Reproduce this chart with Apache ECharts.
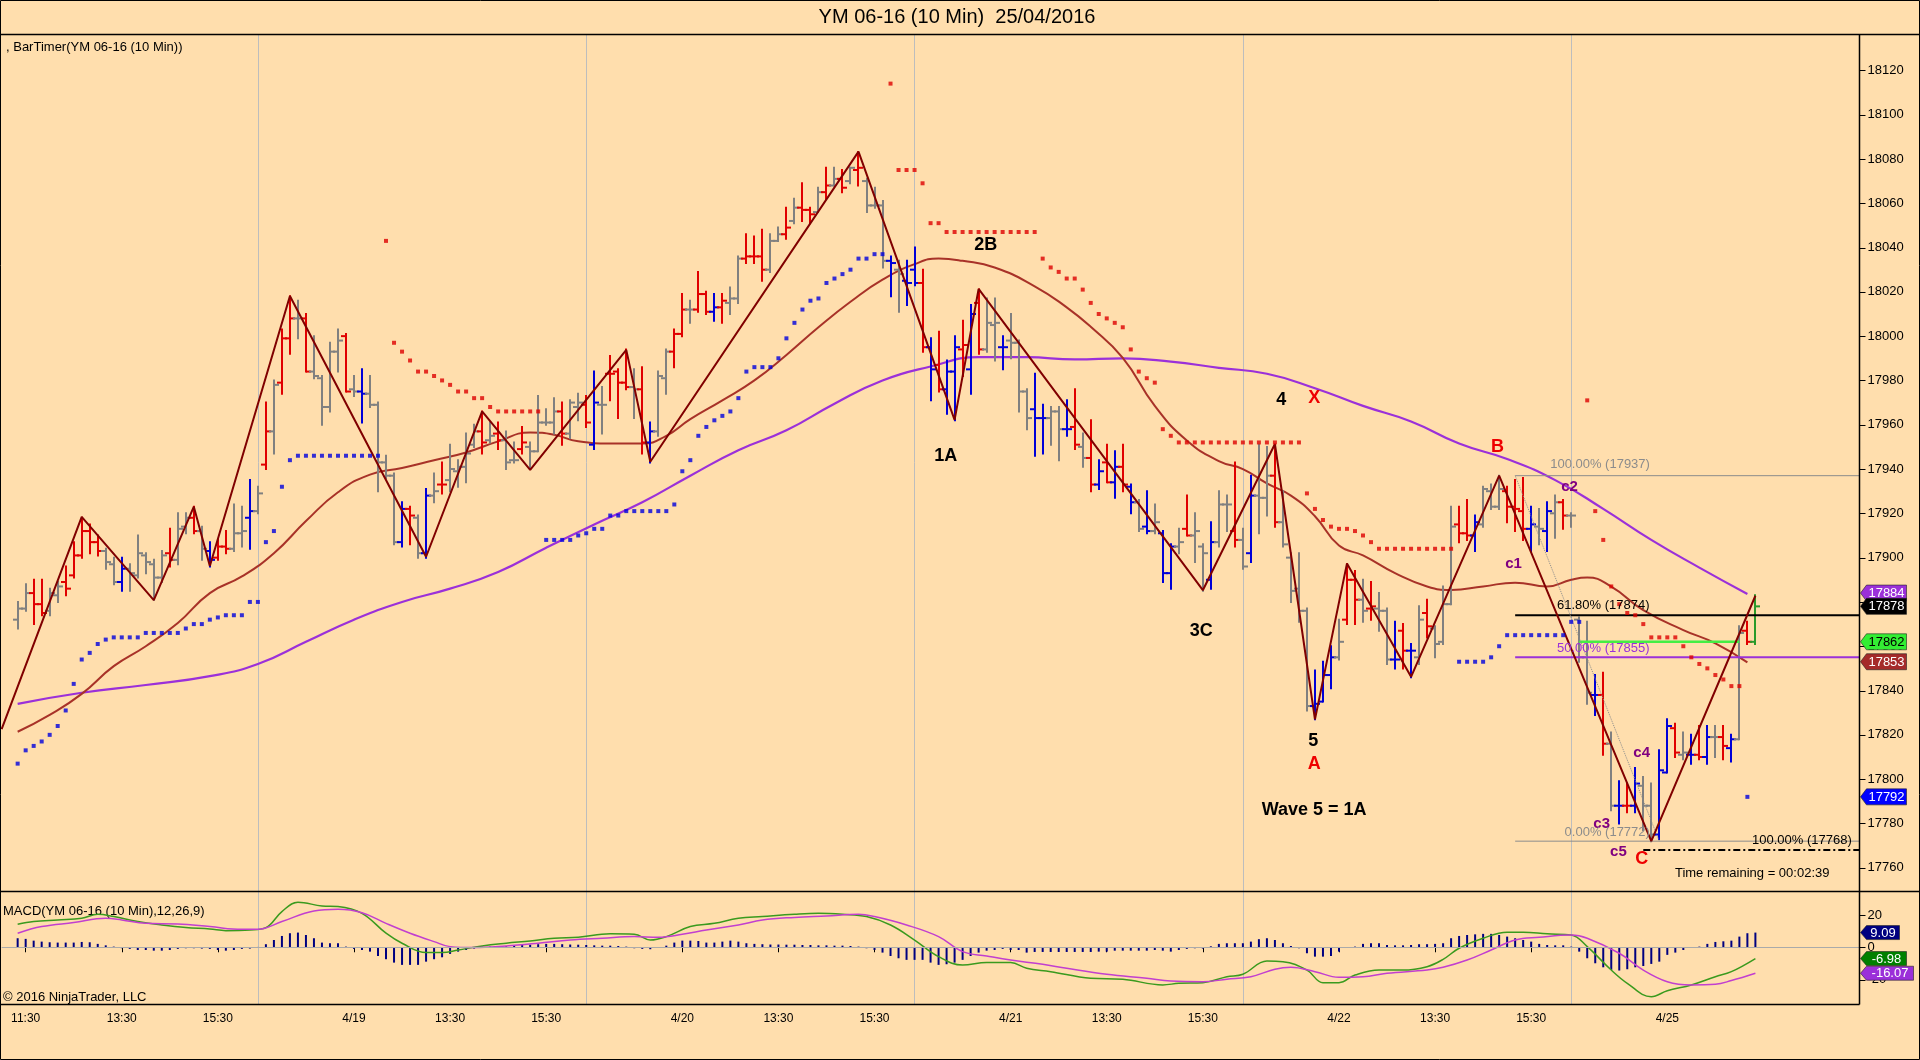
<!DOCTYPE html>
<html>
<head>
<meta charset="utf-8">
<title>YM 06-16 (10 Min) 25/04/2016</title>
<script src="https://cdn.jsdelivr.net/npm/echarts@6/dist/echarts.min.js"></script>
<style>
html, body { margin: 0; padding: 0; background: #ffdead; }
#chart { width: 1920px; height: 1060px; }
</style>
</head>
<body>
<div id="chart"></div>
<script>
/* data */
var FONT = '"Liberation Sans", Arial, sans-serif';
var PRE = 2;      // empty slots left of the first bar
var NCAT = 233;   // slots across the price panel

// one row per 10 min bar: open, high, low, close, colour code
var bars = [
[17872,17880,17868,17877,'g'],[17877,17888,17876,17884,'g'],[17884,17890,17870,17879,'r'],[17879,17890,17874,17875,'r'],
[17876,17886,17874,17884,'g'],[17883,17889,17880,17887,'g'],[17889,17896,17883,17886,'r'],[17892,17907,17891,17901,'r'],
[17901,17918,17900,17912,'r'],[17912,17915,17902,17907,'r'],[17907,17910,17901,17903,'r'],[17903,17904,17895,17898,'g'],
[17897,17900,17888,17889,'g'],[17889,17900,17885,17895,'b'],[17895,17897,17885,17893,'g'],[17892,17910,17891,17902,'g'],
[17901,17902,17893,17898,'g'],[17897,17899,17881,17891,'g'],[17891,17903,17889,17901,'g'],[17902,17913,17896,17899,'r'],
[17899,17920,17897,17913,'g'],[17914,17920,17911,17918,'g'],[17918,17923,17911,17912,'r'],[17912,17914,17899,17904,'g'],
[17903,17907,17896,17899,'b'],[17900,17908,17899,17905,'r'],[17905,17912,17902,17904,'r'],[17904,17924,17903,17911,'g'],
[17911,17923,17905,17912,'g'],[17918,17935,17904,17921,'b'],[17921,17932,17920,17929,'g'],[17942,17970,17940,17957,'r'],
[17957,17980,17947,17978,'g'],[17979,18003,17974,17999,'r'],[17999,18018,17992,18008,'r'],[18008,18016,17999,18008,'g'],
[18008,18010,17984,17984,'r'],[17984,18000,17981,17982,'g'],[17981,17982,17960,17968,'g'],[17968,17997,17966,17993,'g'],
[17993,18003,17984,17998,'g'],[18000,18001,17975,17975,'r'],[17976,17982,17973,17975,'g'],[17975,17985,17961,17974,'b'],
[17974,17982,17968,17969,'g'],[17969,17970,17930,17943,'g'],[17943,17946,17936,17937,'g'],[17937,17938,17906,17907,'g'],
[17907,17925,17905,17922,'b'],[17922,17923,17906,17919,'r'],[17918,17919,17900,17902,'g'],[17902,17931,17900,17928,'b'],
[17928,17938,17925,17930,'g'],[17933,17943,17929,17933,'r'],[17935,17951,17930,17940,'g'],[17939,17944,17932,17941,'g'],
[17941,17956,17934,17947,'g'],[17951,17960,17950,17957,'g'],[17957,17966,17947,17952,'r'],[17953,17961,17952,17955,'g'],
[17956,17961,17949,17953,'r'],[17953,17957,17940,17943,'g'],[17944,17952,17943,17944,'g'],[17949,17959,17947,17952,'r'],
[17950,17952,17940,17948,'g'],[17948,17973,17948,17961,'g'],[17961,17967,17960,17961,'g'],[17961,17972,17956,17966,'g'],
[17966,17970,17951,17956,'r'],[17956,17971,17954,17970,'g'],[17968,17974,17962,17970,'g'],[17969,17973,17959,17961,'r'],
[17951,17984,17949,17970,'b'],[17969,17977,17956,17969,'g'],[17983,17991,17971,17983,'r'],[17984,17985,17963,17979,'r'],
[17979,17994,17976,17977,'r'],[17977,17985,17963,17976,'g'],[17976,17986,17947,17952,'r'],[17952,17961,17943,17957,'b'],
[17957,17984,17955,17982,'g'],[17981,17994,17974,17993,'g'],[17993,18003,17986,18001,'r'],[18001,18019,18000,18012,'r'],
[18012,18016,18006,18012,'g'],[18012,18029,18011,18019,'r'],[18019,18020,18010,18011,'r'],[18011,18019,18007,18013,'b'],
[18013,18019,18006,18016,'r'],[18015,18022,18010,18017,'g'],[18017,18036,18015,18035,'g'],[18035,18046,18033,18036,'r'],
[18036,18045,18033,18036,'r'],[18036,18048,18025,18030,'r'],[18030,18046,18029,18043,'g'],[18043,18049,18043,18046,'g'],
[18046,18058,18044,18049,'r'],[18052,18062,18051,18058,'g'],[18058,18069,18052,18057,'r'],[18057,18058,18051,18055,'r'],
[18056,18067,18056,18065,'g'],[18065,18076,18062,18068,'r'],[18068,18076,18068,18071,'g'],[18071,18075,18065,18067,'r'],
[18070,18076,18069,18076,'g'],[18075,18083,18068,18076,'r'],[18070,18071,18056,18059,'g'],[18059,18067,18058,18059,'g'],
[18059,18061,18031,18034,'g'],[18034,18036,18018,18033,'b'],[18030,18034,18011,18028,'g'],[18025,18034,18014,18024,'b'],
[18030,18040,18023,18024,'b'],[18024,18030,17993,17995,'r'],[17995,17999,17971,17985,'b'],[17987,18002,17975,17976,'r'],
[17976,17989,17965,17984,'b'],[17984,18000,17962,17995,'b'],[17994,18007,17982,17996,'r'],[17985,18014,17974,18010,'b'],
[18015,18021,17992,17994,'r'],[17994,18017,17993,18006,'g'],[18005,18017,17989,18006,'g'],[17995,18000,17985,17995,'b'],
[17998,18010,17990,17997,'g'],[17997,17998,17966,17975,'g'],[17975,17976,17958,17963,'g'],[17967,17983,17946,17963,'b'],
[17963,17969,17947,17963,'b'],[17963,17968,17951,17966,'g'],[17966,17968,17944,17958,'g'],[17958,17971,17955,17958,'b'],
[17959,17976,17949,17951,'r'],[17950,17956,17941,17945,'g'],[17945,17962,17930,17933,'r'],[17933,17944,17931,17939,'b'],
[17943,17951,17934,17934,'r'],[17934,17948,17927,17941,'b'],[17941,17951,17930,17933,'r'],[17932,17933,17920,17925,'b'],
[17925,17926,17912,17913,'g'],[17914,17930,17911,17912,'b'],[17912,17924,17911,17916,'g'],[17911,17912,17889,17893,'b'],
[17893,17906,17886,17905,'b'],[17905,17913,17902,17907,'g'],[17913,17928,17910,17910,'r'],[17910,17920,17898,17912,'g'],
[17905,17906,17885,17902,'g'],[17890,17916,17886,17907,'b'],[17907,17930,17905,17924,'g'],[17924,17928,17912,17924,'g'],
[17912,17943,17905,17908,'r'],[17908,17913,17895,17896,'g'],[17902,17937,17898,17928,'b'],[17928,17951,17911,17927,'g'],
[17927,17950,17919,17937,'g'],[17937,17951,17914,17916,'r'],[17916,17930,17905,17906,'g'],[17900,17902,17880,17885,'g'],
[17886,17902,17871,17876,'g'],[17876,17877,17831,17833,'g'],[17833,17849,17827,17834,'b'],[17835,17853,17835,17847,'b'],
[17847,17860,17841,17855,'b'],[17855,17872,17854,17862,'g'],[17872,17897,17870,17890,'r'],[17890,17894,17870,17881,'r'],
[17881,17890,17871,17876,'g'],[17877,17889,17872,17878,'r'],[17877,17884,17867,17876,'g'],[17876,17877,17852,17854,'g'],
[17854,17871,17850,17854,'b'],[17867,17870,17850,17858,'r'],[17858,17861,17846,17858,'b'],[17855,17878,17852,17872,'g'],
[17875,17881,17864,17869,'r'],[17868,17869,17855,17861,'g'],[17862,17887,17861,17879,'g'],[17879,17923,17879,17914,'g'],
[17915,17923,17907,17911,'r'],[17911,17926,17908,17910,'r'],[17910,17919,17903,17916,'b'],[17915,17932,17914,17931,'g'],
[17930,17933,17922,17923,'g'],[17923,17937,17922,17931,'g'],[17930,17932,17916,17923,'r'],[17923,17935,17912,17922,'r'],
[17921,17936,17908,17913,'r'],[17913,17923,17903,17915,'b'],[17914,17922,17906,17913,'g'],[17912,17925,17903,17921,'b'],
[17920,17928,17909,17925,'g'],[17925,17926,17913,17919,'r'],[17919,17920,17914,17919,'g'],[17872,17873,17853,17855,'g'],
[17855,17871,17834,17839,'g'],[17838,17847,17829,17838,'b'],[17838,17848,17811,17816,'r'],[17816,17821,17786,17788,'g'],
[17788,17799,17780,17788,'b'],[17788,17798,17785,17788,'r'],[17788,17805,17785,17798,'b'],[17797,17801,17777,17788,'g'],
[17788,17798,17772,17775,'g'],[17775,17813,17773,17804,'b'],[17803,17827,17803,17824,'b'],[17823,17825,17810,17812,'r'],
[17811,17821,17809,17812,'g'],[17811,17820,17807,17811,'b'],[17811,17824,17809,17810,'r'],[17810,17824,17807,17819,'b'],
[17819,17824,17810,17819,'g'],[17819,17824,17809,17815,'r'],[17814,17820,17808,17818,'b'],[17818,17869,17818,17866,'g'],
[17867,17871,17861,17862,'r'],[17862,17883,17861,17878,'G']
];

// trailing stop dots [bar, price]
var blueDots = [
[0,17807],[1,17813],[2,17815],[3,17817],[4,17820],[5,17824],[6,17831],[7,17843],[8,17854],[9,17857],[10,17861],
[11,17863],[12,17864],[13,17864],[14,17864],[15,17864],[16,17866],[17,17866],[18,17866],[19,17866],[20,17866],
[21,17868],[22,17870],[23,17870],[24,17872],[25,17873],[26,17874],[27,17874],[28,17874],[29,17880],[30,17880],
[31,17907],[32,17912],[33,17932],[34,17944],[35,17946],[36,17946],[37,17946],[38,17946],[39,17946],[40,17946],
[41,17946],[42,17946],[43,17946],[44,17946],[45,17946],
[66,17908],[67,17908],[68,17908],[69,17908],[70,17910],[71,17911],[72,17913],[73,17913],[74,17919],[75,17919],
[76,17921],[77,17921],[78,17921],[79,17921],[80,17921],[81,17921],[82,17924],[83,17939],[84,17944],[85,17955],
[86,17959],[87,17962],[88,17964],[89,17966],[90,17972],[91,17984],[92,17986],[93,17986],[94,17986],[95,17990],
[96,17999],[97,18006],[98,18012],[99,18016],[100,18017],[101,18024],[102,18026],[103,18028],[104,18030],[105,18035],
[106,18035],[107,18037],[108,18037],
[180,17853],[181,17853],[182,17853],[183,17853],[184,17855],[185,17860],[186,17865],[187,17865],[188,17865],
[189,17865],[190,17865],[191,17865],[192,17865],[193,17865],[194,17871],[195,17871],[216,17792]
];
var redDots = [
[46,18043],[47,17997],[48,17993],[49,17989],[50,17984],[51,17984],[52,17982],[53,17980],[54,17978],[55,17975],
[56,17975],[57,17972],[58,17972],[59,17968],[60,17966],[61,17966],[62,17966],[63,17966],[64,17966],[65,17966],
[109,18114],[110,18075],[111,18075],[112,18075],[113,18069],[114,18051],[115,18051],[116,18047],[117,18047],
[118,18047],[119,18047],[120,18047],[121,18047],[122,18047],[123,18047],[124,18047],[125,18047],[126,18047],
[127,18047],[128,18035],[129,18031],[130,18029],[131,18026],[132,18026],[133,18021],[134,18015],[135,18010],
[136,18008],[137,18006],[138,18004],[139,17994],[140,17984],[141,17981],[142,17979],[143,17958],[144,17955],
[145,17952],[146,17952],[147,17952],[148,17952],[149,17952],[150,17952],[151,17952],[152,17952],[153,17952],
[154,17952],[155,17952],[156,17952],[157,17952],[158,17952],[159,17952],[160,17952],[161,17929],[162,17922],
[163,17917],[164,17914],[165,17913],[166,17913],[167,17912],[168,17910],[169,17907],[170,17904],[171,17904],
[172,17904],[173,17904],[174,17904],[175,17904],[176,17904],[177,17904],[178,17904],[179,17904],
[196,17971],[197,17921],[198,17908],[199,17887],[200,17879],[201,17875],[202,17874],[203,17870],[204,17864],
[205,17864],[206,17864],[207,17864],[208,17860],[209,17855],[210,17852],[211,17850],[212,17847],[213,17845],
[214,17842],[215,17842]
];

// moving averages and zigzag, [bar, price] as read at points along each curve
var smaPts = [[0,17834],[8,17839],[16,17842.5],[24,17846.5],[30,17852],[36,17862],[42,17872],[48,17880],[54,17886],
[60,17893.5],[66,17904.5],[72,17915],[78,17925],[84,17937],[90,17948.5],[96,17957.5],[102,17969.5],[108,17980],
[114,17986.3],[120,17990.5],[126,17990.5],[132,17989.5],[138,17990],[144,17988.5],[150,17985.7],[156,17983],
[162,17976.5],[168,17968.5],[174,17961.5],[180,17951.5],[186,17944.5],[192,17935],[198,17922],[204,17908],
[210,17895.5],[216,17883.6]];
var emaPts = [[0,17821.4],[4,17829],[8,17838.5],[12,17851],[16,17860],[20,17870.5],[24,17884],[28,17891.5],[32,17902],
[36,17916.5],[40,17929.5],[44,17937.5],[48,17940.5],[52,17944],[56,17947.5],[60,17952.5],[64,17956.5],[67,17955.5],
[70,17952.5],[74,17951.5],[78,17951.5],[81,17955],[84,17962.5],[88,17971],[92,17980],[96,17991.5],[100,18004],
[104,18015.5],[108,18025.5],[112,18032.5],[115,18035],[118,18034],[122,18031],[127,18022.5],[131,18013],[134,18004.2],
[138,17990.2],[142,17968.5],[146,17952.9],[150,17943.6],[153,17940],[156,17933.5],[159,17928],[162,17918.7],
[165,17905.5],[168,17901],[172,17893],[176,17887],[179,17885.4],[183,17887],[187,17888.7],[191,17887],[194,17890],
[196,17891],[199,17886.9],[203,17876.3],[208,17867.3],[212,17861.3],[216,17852.7]];
var zigzagPts = [[-2,17822.6],[8,17918.4],[17,17880.8],[22,17923],[24,17896.2],[34,18018.1],[51,17900.4],[58,17966],
[64,17939.6],[76,17993.8],[79,17943.3],[105,18083.3],[117,17962.2],[120,18021.3],[148,17885.3],[157,17951.3],
[162,17827],[166,17897.4],[174,17846.2],[185,17937],[204,17772],[217,17882.8]];

// MACD(12,26,9)
var macdHist = [
5.6,5.2,4.1,3.5,3.1,2.9,2.9,2.9,3.3,3.1, 2.1,1.2,0.4,-0.6,-1.0,-1.7,-1.7,-2.1,-2.1,-1.7,
-1.0,-0.6,-0.6,-0.8,-1.0,-1.7,-2.1,-1.7,-1.0,-0.8, 0.2,1.9,4.5,7.0,8.7,9.1,7.6,5.6,2.9,2.5,
2.5,0.4,-1.0,-1.7,-2.7,-5.4,-7.4,-9.5,-10.9,-10.9, -10.9,-8.9,-7.4,-6.2,-4.1,-2.7,-1.7,-0.8,0.3,0.4,
0.5,0.6,1.0,1.4,1.6,1.9,2.1,2.1,1.9,1.7, 1.6,1.4,1.2,1.0,1.0,0.8,0.4,-0.6,-1.0,-1.2,
-0.4,1.0,2.9,4.1,4.1,3.9,2.9,2.9,3.5,4.1, 3.5,2.5,2.1,1.9,1.7,1.7,1.6,1.6,1.4,1.4,
1.2,1.2,1.0,1.0,0.8,0.4,-0.6,-1.7,-3.3,-5.4, -6.8,-7.8,-7.8,-7.8,-9.5,-10.9,-10.5,-9.5,-7.8,-5.4,
-3.3,-2.1,-1.7,-1.0,-1.7,-1.7,-3.3,-2.9,-2.9,-2.9, -2.9,-2.9,-2.9,-2.9,-2.9,-2.7,-2.7,-2.1,-2.1,-2.1,
-2.1,-2.1,-1.7,-2.1,-2.7,-1.7,-1.0,-0.6,-0.8,0.6, 2.1,2.5,2.5,2.5,3.5,5.0,5.6,4.5,2.5,0.8,
-0.6,-3.7,-5.8,-5.8,-5.4,-2.7,-0.2,0.4,2.1,2.5, 2.5,1.4,1.2,1.2,1.4,1.9,1.9,2.1,2.5,5.6,
7.0,7.6,8.0,8.3,8.3,7.6,6.6,5.6,4.5,3.5, 2.1,1.4,1.2,1.2,0.4,-2.7,-6.8,-9.9,-12.4,-14.0,
-14.4,-13.6,-12.4,-11.6,-10.3,-8.9,-4.7,-3.3,-1.7,-0.2, 0.4,2.1,3.3,3.7,4.1,6.6,8.7,9.09];
var macdPts = [[0,14.2],[2,15.9],[5,16.9],[8,17.9],[10,20.4],[12,19],[15,15.9],[18,13.8],[21,12.2],[24,11.3],[26,10.3],
[29,10.7],[31,12.2],[33,22.1],[35,27.8],[38,25.6],[40,25.2],[43,21],[46,8.7],[48,2.5],[51,-3.3],[53,-3.3],[55,-1.7],
[58,0.8],[61,2.5],[64,3.9],[67,5.6],[70,6.2],[74,8.3],[77,8],[79,4.5],[81,6.6],[84,12.8],[87,14.8],[90,17.9],[93,19],
[97,20.4],[100,21],[103,20.4],[106,19],[109,13.8],[112,4.5],[115,-5.8],[118,-11],[121,-9.5],[124,-9.5],[126,-13],
[129,-15.1],[134,-19.2],[138,-19.8],[143,-23.3],[145,-22.3],[148,-21.9],[151,-18.2],[153,-16.7],[156,-8.5],[158,-8.9],
[161,-14.1],[163,-21.9],[165,-21.9],[167,-17.2],[170,-14.1],[173,-14.1],[176,-12],[178,-7.5],[180,-0.6],[183,5.6],
[186,9.3],[188,9.3],[191,8.3],[194,7.6],[196,0.4],[199,-14.1],[201,-22.3],[204,-30.6],[206,-26.9],[209,-23.3],
[212,-18.2],[214,-15.1],[217,-6.98]];
var signalPts = [[0,8.7],[3,12.8],[7,15.3],[11,17.9],[13,16.9],[16,14.8],[20,14.4],[24,12.8],[28,11.1],[30,11.1],
[33,15.9],[37,22.5],[40,23.5],[43,21.4],[46,14.8],[49,8.7],[52,3.5],[54,0.4],[57,-0.2],[61,0.8],[65,2.5],[69,4.5],
[73,5.6],[77,6.6],[80,6.2],[83,8],[86,10.7],[90,13.8],[93,16.9],[97,18.5],[101,19.4],[105,20.4],[107,19],[111,13.8],
[115,6.6],[118,-2.7],[121,-5.4],[124,-7.9],[128,-10.5],[131,-13],[136,-16.7],[141,-19.2],[144,-20.9],[148,-21.3],
[151,-19.8],[154,-18.2],[157,-13.6],[159,-12.4],[162,-15.1],[165,-18.6],[168,-18.2],[171,-16.1],[176,-14.1],
[178,-12.4],[181,-7.9],[184,-1.7],[187,4.5],[190,6.2],[194,7.6],[196,5.6],[200,-3.7],[203,-14.1],[206,-21.3],
[209,-23.3],[212,-22.9],[214,-20.6],[217,-16.07]];

// axes
var priceTicks = [17760,17780,17800,17820,17840,17860,17880,17900,17920,17940,17960,17980,18000,18020,18040,18060,18080,18100,18120];
var macdTicks = [-20, 0, 20];
var xTickIdx = [1,13,25,42,54,66,83,95,107,124,136,148,165,177,189,206];
var xTickText = ['11:30','13:30','15:30','4/19','13:30','15:30','4/20','13:30','15:30','4/21','13:30','15:30','4/22','13:30','15:30','4/25'];
var sessionLines = [30, 71, 112, 153, 194];

// fibonacci tool, [from bar, to bar, price]
var fibThin = [[187,230,17937],[187,230,17772]];
var fibBlack = [[187,230,17874]];
var fibPurple = [[187,230,17855]];
var greenLevel = [[195,215,17862]];
var targetLevel = [[203,230,17768]];
var fibDiagonal = [[187,17937],[205,17772]];

// text on the chart, [bar, price, text]
var waveNotes = [[120.9,18041,'2B'],[115.9,17946,'1A'],[147.8,17867,'3C'],[157.8,17971,'4'],[161.8,17817,'5'],[161.9,17786,'Wave 5 = 1A']];
var redNotes = [[161.9,17972,'X'],[161.9,17807,'A'],[184.8,17950,'B'],[202.8,17764,'C']];
var subNotes = [[193.8,17932,'c2'],[186.8,17897,'c1'],[202.8,17812,'c4'],[197.8,17780,'c3'],[199.9,17767,'c5']];
var grayNotes = [[197.6,17942,'100.00% (17937)'],[198.5,17776,'0.00% (17772)']];
var blackNotes = [[198,17878.6,'61.80% (17874)'],[222.8,17772.5,'100.00% (17768)'],[216.6,17757.5,'Time remaining = 00:02:39']];
var purpleNotes = [[198,17859,'50.00% (17855)']];

// last value flags on the right axis
var priceTagValues = [17884, 17878, 17862, 17853, 17792];
var priceTagFill = ['#9b30d9', '#000000', '#33ee33', '#a52a2a', '#0000ff'];
var priceTagInk = ['#ffffff', '#ffffff', '#000000', '#ffffff', '#ffffff'];
var macdTagValues = [9.09, -6.98, -16.07];
var macdTagText = ['9.09', '-6.98', '-16.07'];
var macdTagFill = ['#000080', '#008000', '#9b30d9'];

var BAR_COLORS = { r: '#e00000', b: '#0000d8', g: '#808080', G: '#2a9a2a' };

/* helpers */
function shift(pts) {
    return pts.map(function (p) { return [p[0] + PRE, p[1]]; });
}
function levelData(list) {
    var out = [];
    list.forEach(function (l) {
        out.push([l[0] + PRE, l[2]], [l[1] + PRE, l[2]], null);
    });
    return out;
}

var cats = [];
for (var k = 0; k < NCAT; k++) cats.push('k' + k);
var labelAt = {};
xTickIdx.forEach(function (idx, j) { labelAt[idx + PRE] = xTickText[j]; });
var lineAt = {};
sessionLines.forEach(function (idx) { lineAt[idx + PRE] = true; });

var ohlcData = bars.map(function (b, i) { return [i + PRE, b[0], b[1], b[2], b[3]]; });

function renderOhlc(params, api) {
    var k = api.value(0);
    var o = api.coord([k, api.value(1)]);
    var h = api.coord([k, api.value(2)]);
    var l = api.coord([k, api.value(3)]);
    var c = api.coord([k, api.value(4)]);
    var col = BAR_COLORS[bars[params.dataIndex][4]];
    var x = Math.round(h[0]);
    var st = { stroke: col, lineWidth: 2 };
    return {
        type: 'group',
        children: [
            { type: 'line', shape: { x1: x, y1: h[1] - 1, x2: x, y2: l[1] + 1 }, style: st },
            { type: 'line', shape: { x1: x - 5, y1: o[1], x2: x, y2: o[1] }, style: st },
            { type: 'line', shape: { x1: x, y1: c[1], x2: x + 5, y2: c[1] }, style: st }
        ]
    };
}

function noteSeries(list, color, font) {
    return {
        type: 'custom', xAxisIndex: 2, yAxisIndex: 0, z: 9, silent: true,
        data: list.map(function (n) { return [n[0] + PRE, n[1]]; }),
        encode: { x: 0, y: 1 },
        renderItem: function (params, api) {
            var p = api.coord([api.value(0), api.value(1)]);
            return {
                type: 'text', x: p[0], y: p[1],
                style: { text: list[params.dataIndex][2], fill: color, font: font, align: 'center', verticalAlign: 'middle' }
            };
        }
    };
}

// small outward ticks on the right-hand value axes
function tickSeries(xIdx, yIdx, values) {
    return {
        type: 'custom', xAxisIndex: xIdx, yAxisIndex: yIdx, z: 20, silent: true, clip: false,
        data: values.map(function (v) { return [0, v]; }),
        encode: { x: 0, y: 1 },
        renderItem: function (params, api) {
            var y = Math.round(api.coord([0, api.value(1)])[1]) + 0.5;
            var x0 = params.coordSys.x + params.coordSys.width;
            return { type: 'line', shape: { x1: x0, y1: y, x2: x0 + 6, y2: y }, style: { stroke: '#000', lineWidth: 1 } };
        }
    };
}

function tagSeries(xIdx, yIdx, values, texts, fills, inks, h) {
    return {
        type: 'custom', xAxisIndex: xIdx, yAxisIndex: yIdx, z: 21, silent: true, clip: false,
        data: values.map(function (v) { return [0, v]; }),
        encode: { x: 0, y: 1 },
        renderItem: function (params, api) {
            var i = params.dataIndex;
            var y = api.coord([0, api.value(1)])[1];
            var x0 = params.coordSys.x + params.coordSys.width;
            var txt = texts[i];
            var w = txt.length * 7 + 12;
            var hh = h / 2;
            return {
                type: 'group',
                children: [
                    { type: 'polygon', shape: { points: [[x0 + 1, y], [x0 + 7, y - hh], [x0 + w, y - hh], [x0 + w, y + hh], [x0 + 7, y + hh]] },
                      style: { fill: fills[i], stroke: '#222', lineWidth: 0.6 } },
                    { type: 'text', x: x0 + 7 + (w - 7) / 2, y: y + 0.5,
                      style: { text: txt, fill: inks[i], font: '13px ' + FONT, align: 'center', verticalAlign: 'middle' } }
                ]
            };
        }
    };
}

function levelSeries(list, color, width, type, z) {
    return {
        type: 'line', xAxisIndex: 2, yAxisIndex: 0, z: z || 6, silent: true,
        data: levelData(list), connectNulls: false,
        symbol: 'none', lineStyle: { color: color, width: width, type: type || 'solid' }
    };
}

var chart = echarts.init(document.getElementById('chart'), null, { renderer: 'canvas' });

var option = {
    animation: false,
    backgroundColor: '#ffdead',
    grid: [
        { left: 1.64, right: 60.5, top: 34, bottom: 169 },
        { left: 1.64, right: 60.5, top: 891.7, bottom: 55.7 }
    ],
    xAxis: [
        { type: 'category', gridIndex: 0, data: cats, boundaryGap: false,
          axisLine: { show: false }, axisTick: { show: false }, axisLabel: { show: false },
          splitLine: { show: true, interval: function (i) { return !!lineAt[i]; }, lineStyle: { color: '#bdbdbd', width: 1 } } },
        { type: 'category', gridIndex: 1, data: cats, boundaryGap: false,
          axisLine: { show: false },
          axisTick: { show: true, length: 5, interval: function (i) { return labelAt[i] !== undefined; }, lineStyle: { color: '#000' } },
          axisLabel: { show: true, interval: function (i) { return labelAt[i] !== undefined; },
                       formatter: function (v, i) { return labelAt[i] || ''; },
                       color: '#000', fontSize: 12, fontFamily: FONT, margin: 8 },
          splitLine: { show: true, interval: function (i) { return !!lineAt[i]; }, lineStyle: { color: '#bdbdbd', width: 1 } } },
        { type: 'value', gridIndex: 0, min: 0, max: NCAT - 1, show: false },
        { type: 'value', gridIndex: 1, min: 0, max: NCAT - 1, show: false }
    ],
    yAxis: [
        { type: 'value', gridIndex: 0, position: 'right', min: 17749.5, max: 18136.4,
          axisLine: { show: false }, splitLine: { show: false }, axisTick: { show: false },
          axisLabel: { customValues: priceTicks, color: '#000', fontSize: 13, fontFamily: FONT, margin: 8,
                       formatter: function (v) { return String(v); } } },
        { type: 'value', gridIndex: 1, position: 'right', min: -35.3, max: 34.4,
          axisLine: { show: false }, splitLine: { show: false }, axisTick: { show: false },
          axisLabel: { customValues: macdTicks, color: '#000', fontSize: 13, fontFamily: FONT, margin: 8,
                       formatter: function (v) { return String(v); } } }
    ],
    series: [
        { type: 'line', name: 'SMA', xAxisIndex: 2, yAxisIndex: 0, z: 3, data: shift(smaPts), symbol: 'none',
          smooth: 0.5, lineStyle: { color: '#9b30d9', width: 2.2 } },
        { type: 'line', name: 'EMA', xAxisIndex: 2, yAxisIndex: 0, z: 3, data: shift(emaPts), symbol: 'none',
          smooth: 0.5, lineStyle: { color: '#a83228', width: 2 } },
        { type: 'custom', name: 'bars', xAxisIndex: 2, yAxisIndex: 0, z: 4, data: ohlcData,
          encode: { x: 0, y: [1, 2, 3, 4] }, renderItem: renderOhlc },
        levelSeries(fibThin, '#8c8c8c', 1),
        levelSeries(fibBlack, '#000000', 2),
        levelSeries(fibPurple, '#9b30d9', 2),
        levelSeries(greenLevel, '#44ee44', 2.5),
        levelSeries(targetLevel, '#000000', 2, [7, 3, 2, 3]),
        { type: 'line', xAxisIndex: 2, yAxisIndex: 0, z: 6, data: shift(fibDiagonal), symbol: 'none',
          lineStyle: { color: '#8c8c8c', width: 1, type: 'dotted' } },
        { type: 'line', name: 'ZigZag', xAxisIndex: 2, yAxisIndex: 0, z: 7, data: shift(zigzagPts), symbol: 'none',
          lineStyle: { color: '#800000', width: 2 } },
        { type: 'scatter', xAxisIndex: 2, yAxisIndex: 0, z: 8, data: shift(blueDots), symbol: 'rect', symbolSize: 4,
          itemStyle: { color: '#0000dd' } },
        { type: 'scatter', xAxisIndex: 2, yAxisIndex: 0, z: 8, data: shift(redDots), symbol: 'rect', symbolSize: 4,
          itemStyle: { color: '#dd0000' } },
        noteSeries(waveNotes, '#000000', 'bold 18px ' + FONT),
        noteSeries(redNotes, '#ee0000', 'bold 18px ' + FONT),
        noteSeries(subNotes, '#800080', 'bold 15px ' + FONT),
        noteSeries(grayNotes, '#8c8c8c', '13px ' + FONT),
        noteSeries(blackNotes, '#000000', '13px ' + FONT),
        noteSeries(purpleNotes, '#9b30d9', '13px ' + FONT),
        tickSeries(2, 0, priceTicks),
        tagSeries(2, 0, priceTagValues, priceTagValues.map(String), priceTagFill, priceTagInk, 16),
        { type: 'bar', name: 'Diff', xAxisIndex: 1, yAxisIndex: 1, barWidth: 2, z: 3,
          data: [null, null].concat(macdHist), itemStyle: { color: '#000080' },
          markLine: { silent: true, symbol: ['none', 'none'], label: { show: false },
                      lineStyle: { color: '#aaaaaa', width: 1, type: 'solid' }, data: [{ yAxis: 0 }] } },
        { type: 'line', name: 'MACD', xAxisIndex: 3, yAxisIndex: 1, z: 4, data: shift(macdPts), symbol: 'none',
          smooth: 0.4, lineStyle: { color: '#3a9a1e', width: 1.5 } },
        { type: 'line', name: 'Avg', xAxisIndex: 3, yAxisIndex: 1, z: 4, data: shift(signalPts), symbol: 'none',
          smooth: 0.4, lineStyle: { color: '#c23fcf', width: 1.5 } },
        tickSeries(3, 1, macdTicks),
        tagSeries(3, 1, macdTagValues, macdTagText, macdTagFill, ['#ffffff', '#ffffff', '#ffffff'], 14)
    ],
    graphic: [
        { type: 'rect', silent: true, z: 50, shape: { x: 0.5, y: 0.5, width: 1919, height: 1059 }, style: { fill: 'none', stroke: '#000', lineWidth: 1 } },
        { type: 'line', silent: true, z: 50, shape: { x1: 0, y1: 34.5, x2: 1920, y2: 34.5 }, style: { stroke: '#000', lineWidth: 1.5 } },
        { type: 'line', silent: true, z: 50, shape: { x1: 0, y1: 891.5, x2: 1920, y2: 891.5 }, style: { stroke: '#000', lineWidth: 1.5 } },
        { type: 'line', silent: true, z: 50, shape: { x1: 0, y1: 1004.5, x2: 1859.5, y2: 1004.5 }, style: { stroke: '#000', lineWidth: 1.5 } },
        { type: 'line', silent: true, z: 50, shape: { x1: 1859.5, y1: 34.5, x2: 1859.5, y2: 1004.5 }, style: { stroke: '#000', lineWidth: 1.5 } },
        { type: 'text', silent: true, x: 957, y: 17, style: { text: 'YM 06-16 (10 Min)  25/04/2016', font: '20px ' + FONT, fill: '#000', align: 'center', verticalAlign: 'middle' } },
        { type: 'text', silent: true, x: 6, y: 47, style: { text: ', BarTimer(YM 06-16 (10 Min))', font: '13px ' + FONT, fill: '#000', align: 'left', verticalAlign: 'middle' } },
        { type: 'text', silent: true, x: 3, y: 911, style: { text: 'MACD(YM 06-16 (10 Min),12,26,9)', font: '13px ' + FONT, fill: '#000', align: 'left', verticalAlign: 'middle' } },
        { type: 'text', silent: true, x: 3, y: 997, style: { text: '\u00a9 2016 NinjaTrader, LLC', font: '13px ' + FONT, fill: '#000', align: 'left', verticalAlign: 'middle' } }
    ]
};

chart.setOption(option);
window.addEventListener('resize', function () { chart.resize(); });
</script>
</body>
</html>
